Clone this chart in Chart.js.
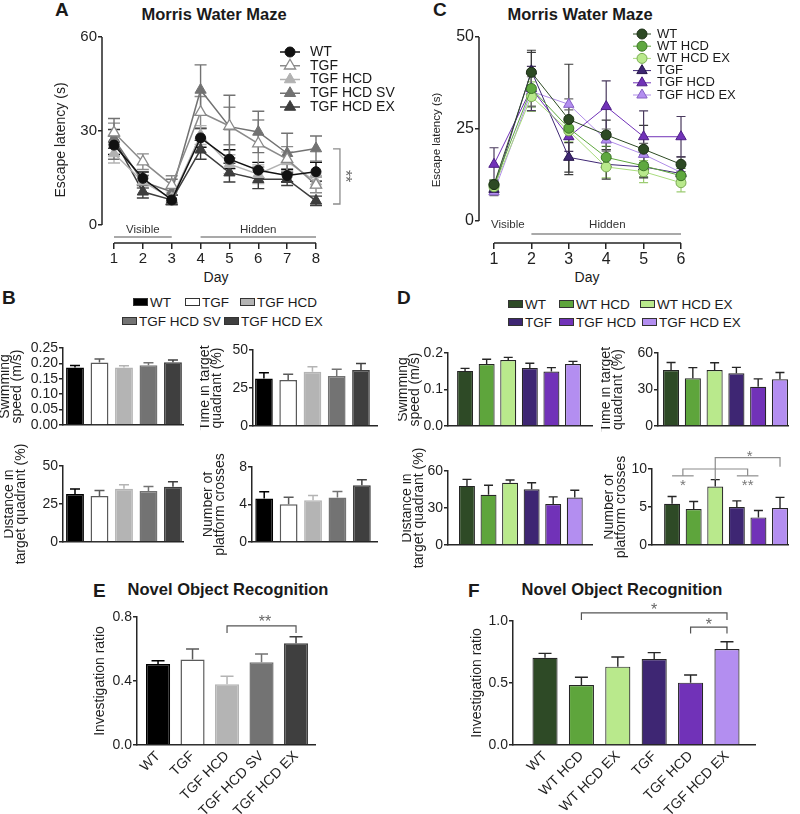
<!DOCTYPE html>
<html>
<head>
<meta charset="utf-8">
<title>Morris Water Maze / Novel Object Recognition</title>
<script src="https://cdn.jsdelivr.net/npm/chart.js@4.4.0/dist/chart.umd.min.js"></script>
<style>
  body { margin: 0; background: #fff; }
  #page { position: relative; width: 800px; height: 814px; overflow: hidden; font-family: 'Liberation Sans', Arial, sans-serif; color: #1a1a1a; }
  .box { position: absolute; }
  .lbl { position: absolute; white-space: nowrap; line-height: 1; }
  .letter { font-weight: bold; font-size: 19px; }
  .title { font-weight: bold; font-size: 16.5px; transform: translateX(-50%); }
  .day { font-size: 14px; transform: translateX(-50%); }
  .key { position: absolute; white-space: nowrap; line-height: 1; font-size: 13.5px; }
  .key i { display: inline-block; width: 13px; height: 6px; border: 1px solid #333; margin-right: 2px; vertical-align: middle; position: relative; top: -1px; }
</style>
</head>
<body>
<div id="page">
  <div class="lbl letter" style="left:55px;top:0">A</div>
  <div class="lbl title" style="left:214px;top:6px">Morris Water Maze</div>
  <div class="lbl day" style="left:216px;top:270px">Day</div>

  <div class="lbl letter" style="left:433px;top:0">C</div>
  <div class="lbl title" style="left:580px;top:6px">Morris Water Maze</div>
  <div class="lbl day" style="left:587px;top:270px">Day</div>

  <div class="lbl letter" style="left:2px;top:288px">B</div>
  <div class="key" style="left:133px;top:296px"><i style="background:#000"></i>WT</div>
  <div class="key" style="left:185px;top:296px"><i style="background:#fff"></i>TGF</div>
  <div class="key" style="left:240px;top:296px"><i style="background:#b4b4b4"></i>TGF HCD</div>
  <div class="key" style="left:122px;top:315px"><i style="background:#737373"></i>TGF HCD SV</div>
  <div class="key" style="left:224px;top:315px"><i style="background:#3f3f3f"></i>TGF HCD EX</div>

  <div class="lbl letter" style="left:397px;top:288px">D</div>
  <div class="key" style="left:508px;top:298px"><i style="background:#2e4a26"></i>WT</div>
  <div class="key" style="left:559px;top:298px"><i style="background:#5ea53c"></i>WT HCD</div>
  <div class="key" style="left:640px;top:298px"><i style="background:#b9e98c"></i>WT HCD EX</div>
  <div class="key" style="left:508px;top:316px"><i style="background:#3e2673"></i>TGF</div>
  <div class="key" style="left:559px;top:316px"><i style="background:#7132b8"></i>TGF HCD</div>
  <div class="key" style="left:642px;top:316px"><i style="background:#b38ef0"></i>TGF HCD EX</div>

  <div class="lbl letter" style="left:93px;top:581px">E</div>
  <div class="lbl title" style="left:228px;top:581px">Novel Object Recognition</div>
  <div class="lbl letter" style="left:468px;top:581px">F</div>
  <div class="lbl title" style="left:622px;top:581px">Novel Object Recognition</div>
</div>

<script>
// ---------- data ----------
const daysA = [1, 2, 3, 4, 5, 6, 7, 8];
const daysC = [1, 2, 3, 4, 5, 6];
const latencyTicksA = [0, 30, 60];
const latencyTicksC = [0, 25, 50];

// panel A, escape latency (s), mean and SEM
const wtA = [25.5, 14.9, 8.0, 27.8, 21.0, 17.5, 15.8, 17.0];
const wtAErr = [3, 2, 1.5, 3, 3, 2.5, 2, 3];
const tgfA = [29.5, 20.2, 12.7, 36.0, 31.6, 26.0, 21.0, 12.8];
const tgfAErr = [3, 2.5, 3, 5, 6, 7.5, 4, 2.5];
const tgfHcdA = [22.8, 13.8, 8.5, 28.7, 19.4, 16.2, 20.3, 13.8];
const tgfHcdAErr = [3, 2, 2, 3, 3, 3, 3, 2];
const tgfHcdSvA = [27.5, 13.8, 10.6, 43.1, 31.4, 29.7, 22.9, 24.4];
const tgfHcdSvAErr = [6.5, 2, 4, 8, 10, 6.6, 6.4, 4];
const tgfHcdExA = [27.5, 10.6, 8.0, 24.0, 16.7, 14.6, 14.6, 7.7];
const tgfHcdExAErr = [3, 2, 1.5, 3, 3, 3, 2, 1.5];

// panel C, escape latency (s), mean and SEM
const wtC = [9.9, 40.4, 27.6, 23.4, 19.5, 15.4];
const wtCErr = [1.2, 6, 15, 4, 6.5, 2];
const wtHcdC = [9.9, 36.0, 25.2, 17.3, 15.0, 12.3];
const wtHcdCErr = [1.2, 5, 3, 3, 3, 2];
const wtHcdExC = [9.3, 33.8, 24.5, 14.7, 13.4, 10.4];
const wtHcdExCErr = [1, 4, 3, 3, 3, 2.5];
const tgfC = [8.6, 40.8, 17.3, 15.4, 14.7, 12.9];
const tgfCErr = [1, 5, 4, 4, 3, 3];
const tgfHcdC = [15.4, 36.0, 22.9, 31.1, 22.9, 22.9];
const tgfHcdCErr = [4.5, 6, 4, 7, 7, 5.5];
const tgfHcdExC = [7.9, 35.2, 31.7, 22.0, 18.1, 13.2];
const tgfHcdExCErr = [1, 4, 1.5, 3, 3, 2];

// panel B groups and values
const groupsB = ["WT", "TGF", "TGF HCD", "TGF HCD SV", "TGF HCD EX"];
const speedB = [0.187, 0.203, 0.187, 0.194, 0.204];
const speedBErr = [0.006, 0.011, 0.005, 0.008, 0.007];
const timeB = [31.3, 30.3, 35.7, 32.9, 36.8];
const timeBErr = [3.7, 3.7, 3.3, 4.4, 4.4];
const distB = [31.6, 30.3, 35.0, 33.5, 36.4];
const distBErr = [3.3, 3.5, 2.7, 3.0, 3.3];
const crossB = [4.65, 4.03, 4.45, 4.74, 6.05];
const crossBErr = [0.7, 0.75, 0.5, 0.64, 0.6];
const speedTicksB = [0, 0.05, 0.10, 0.15, 0.20, 0.25];
const pctTicksB = [0, 25, 50];
const crossTicksB = [0, 4, 8];

// panel D groups and values
const groupsD = ["WT", "WT HCD", "WT HCD EX", "TGF", "TGF HCD", "TGF HCD EX"];
const speedD = [0.151, 0.170, 0.181, 0.159, 0.149, 0.170];
const speedDErr = [0.007, 0.013, 0.007, 0.013, 0.011, 0.007];
const timeD = [46.0, 39.2, 46.0, 43.4, 32.3, 38.4];
const timeDErr = [6.2, 8.8, 6.0, 4.8, 6.4, 5.6];
const distD = [47.9, 40.7, 50.5, 45.2, 33.3, 38.5];
const distDErr = [5.3, 7.7, 2.2, 5.3, 5.7, 5.9];
const crossD = [5.43, 4.73, 7.70, 5.00, 3.63, 4.86];
const crossDErr = [0.95, 1.0, 0.9, 0.8, 0.9, 1.4];
const speedTicksD = [0, 0.1, 0.2];
const pctTicksD = [0, 30, 60];
const crossTicksD = [0, 5, 10];

// panels E and F, investigation ratio
const ratioE = [0.506, 0.535, 0.380, 0.517, 0.636];
const ratioEErr = [0.021, 0.065, 0.05, 0.052, 0.041];
const ratioTicksE = [0, 0.4, 0.8];
const ratioF = [0.704, 0.484, 0.632, 0.694, 0.503, 0.774];
const ratioFErr = [0.035, 0.062, 0.078, 0.051, 0.062, 0.059];
const ratioTicksF = [0, 0.5, 1.0];

// ---------- styles ----------
const FONT = "'Liberation Sans', Arial, sans-serif";
const AXIS = "#262626";
const fillsB = ["#000000", "#ffffff", "#b4b4b4", "#737373", "#3f3f3f"];
const edgesB = ["#000000", "#5a5a5a", "#b4b4b4", "#737373", "#3f3f3f"];
const fillsD = ["#2e4a26", "#5ea53c", "#b9e98c", "#3e2673", "#7132b8", "#b38ef0"];
const edgesD = ["#262626", "#262626", "#262626", "#262626", "#262626", "#262626"];

Chart.defaults.font.family = FONT;
Chart.defaults.color = "#1f1f1f";
Chart.defaults.animation = false;
Chart.defaults.plugins.legend.display = false;
Chart.defaults.plugins.tooltip.enabled = false;

const specs = {};

// ---------- plugins ----------
function marker(ctx, style, x, y, r) {
  ctx.beginPath();
  if (style === "triangle") {
    ctx.moveTo(x, y - r);
    ctx.lineTo(x + 0.866 * r, y + 0.5 * r);
    ctx.lineTo(x - 0.866 * r, y + 0.5 * r);
    ctx.closePath();
  } else {
    ctx.arc(x, y, r, 0, Math.PI * 2);
  }
}

function drawErrors(chart, sp) {
  const ctx = chart.ctx;
  const y = chart.scales.y;
  chart.data.datasets.forEach((ds, di) => {
    if (!ds.errors) return;
    const meta = chart.getDatasetMeta(di);
    meta.data.forEach((el, i) => {
      const v = ds.data[i].y;
      const e = ds.errors[i];
      const top = y.getPixelForValue(v + e);
      const bottom = sp.errMode === "both" ? y.getPixelForValue(v - e) : y.getPixelForValue(v);
      ctx.save();
      ctx.strokeStyle = Array.isArray(ds.errorColor) ? ds.errorColor[i] : ds.errorColor;
      ctx.lineWidth = sp.errWidth;
      ctx.beginPath();
      ctx.moveTo(el.x, bottom);
      ctx.lineTo(el.x, top);
      ctx.moveTo(el.x - sp.cap, top);
      ctx.lineTo(el.x + sp.cap, top);
      if (sp.errMode === "both") {
        ctx.moveTo(el.x - sp.cap, bottom);
        ctx.lineTo(el.x + sp.cap, bottom);
      }
      ctx.stroke();
      ctx.restore();
    });
  });
}

const errorBars = {
  id: "errorBars",
  beforeDatasetsDraw(chart) {
    const sp = specs[chart.canvas.id];
    if (sp && sp.errMode === "both") drawErrors(chart, sp);
  },
  afterDatasetsDraw(chart) {
    const sp = specs[chart.canvas.id];
    if (sp && sp.errMode === "up") drawErrors(chart, sp);
  },
};

// detached axis lines, GraphPad style, for the line charts
const openAxes = {
  id: "openAxes",
  beforeDatasetsDraw(chart) {
    const sp = specs[chart.canvas.id];
    if (!sp || !sp.axes) return;
    const { ctx, chartArea, scales } = chart;
    ctx.save();
    ctx.strokeStyle = AXIS;
    ctx.lineWidth = 1.5;
    ctx.beginPath();
    ctx.moveTo(chartArea.left, scales.y.getPixelForValue(sp.axes.y0));
    ctx.lineTo(chartArea.left, scales.y.getPixelForValue(sp.axes.y1));
    ctx.moveTo(scales.x.getPixelForValue(sp.axes.x0), chartArea.bottom);
    ctx.lineTo(scales.x.getPixelForValue(sp.axes.x1), chartArea.bottom);
    ctx.stroke();
    ctx.restore();
  },
};

// brackets, phase lines and stars, in data units
const marks = {
  id: "marks",
  afterDraw(chart) {
    const sp = specs[chart.canvas.id];
    if (!sp || !sp.marks) return;
    const { ctx, scales: { x, y } } = chart;
    ctx.save();
    (sp.marks.lines || []).forEach((l) => {
      ctx.strokeStyle = l.color;
      ctx.lineWidth = l.width;
      ctx.beginPath();
      l.pts.forEach((p, i) => {
        const px = x.getPixelForValue(p[0]);
        const py = y.getPixelForValue(p[1]);
        if (i) ctx.lineTo(px, py);
        else ctx.moveTo(px, py);
      });
      ctx.stroke();
    });
    (sp.marks.texts || []).forEach((t) => {
      ctx.save();
      ctx.translate(x.getPixelForValue(t.x), y.getPixelForValue(t.y));
      if (t.rotate) ctx.rotate(t.rotate);
      ctx.fillStyle = t.color;
      ctx.font = t.font + " " + FONT;
      ctx.textAlign = "center";
      ctx.textBaseline = "middle";
      ctx.fillText(t.text, 0, 0);
      ctx.restore();
    });
    ctx.restore();
  },
};

const seriesKey = {
  id: "seriesKey",
  afterDraw(chart) {
    const sp = specs[chart.canvas.id];
    if (!sp || !sp.legend) return;
    const lg = sp.legend;
    const ctx = chart.ctx;
    ctx.save();
    chart.data.datasets.forEach((ds, i) => {
      const cx = lg.x - sp.box.x;
      const cy = lg.y + i * lg.dy - sp.box.y;
      ctx.strokeStyle = ds.borderColor;
      ctx.lineWidth = ds.borderWidth;
      ctx.beginPath();
      ctx.moveTo(cx - lg.half, cy);
      ctx.lineTo(cx + lg.half, cy);
      ctx.stroke();
      marker(ctx, ds.pointStyle, cx, cy, ds.pointRadius);
      ctx.fillStyle = ds.pointBackgroundColor;
      ctx.fill();
      ctx.strokeStyle = ds.pointBorderColor;
      ctx.lineWidth = ds.pointBorderWidth;
      ctx.stroke();
      ctx.fillStyle = "#1a1a1a";
      ctx.font = lg.font + " " + FONT;
      ctx.textAlign = "left";
      ctx.textBaseline = "middle";
      ctx.fillText(ds.label, lg.textX - sp.box.x, cy);
    });
    ctx.restore();
  },
};

Chart.register(errorBars, openAxes, marks, seriesKey);

// ---------- helpers ----------
function place(id, box, area, config, spec) {
  const wrap = document.createElement("div");
  wrap.className = "box";
  wrap.style.left = box.x + "px";
  wrap.style.top = box.y + "px";
  const canvas = document.createElement("canvas");
  canvas.id = id;
  canvas.width = box.w;
  canvas.height = box.h;
  canvas.style.width = box.w + "px";
  canvas.style.height = box.h + "px";
  canvas.style.display = "block";
  wrap.appendChild(canvas);
  document.getElementById("page").appendChild(wrap);
  specs[id] = Object.assign({ box }, spec);

  const o = config.options;
  o.responsive = false;
  o.maintainAspectRatio = false;
  o.layout = { padding: { left: 0, top: area.t - box.y, right: box.x + box.w - area.r, bottom: 0 } };
  o.scales.y.afterFit = (s) => { s.width = area.l - box.x; };
  o.scales.x.afterFit = (s) => { s.height = box.y + box.h - area.b; };
  return new Chart(canvas, config);
}

function lineScales(xMin, xMax, xTicks, yMin, yMax, yTicks, tickSize, title, titleSize) {
  return {
    x: {
      type: "linear", min: xMin, max: xMax,
      afterBuildTicks: (s) => { s.ticks = xTicks.map((v) => ({ value: v })); },
      ticks: { font: { size: tickSize }, padding: 1, color: "#1f1f1f", autoSkip: false, maxRotation: 0 },
      grid: { drawOnChartArea: false, drawTicks: true, tickLength: 6, color: AXIS, lineWidth: 1.5 },
      border: { display: false },
    },
    y: {
      type: "linear", min: yMin, max: yMax,
      afterBuildTicks: (s) => { s.ticks = yTicks.map((v) => ({ value: v })); },
      ticks: { font: { size: tickSize }, padding: 1, color: "#1f1f1f", autoSkip: false },
      grid: { drawOnChartArea: false, drawTicks: true, tickLength: 4, color: AXIS, lineWidth: 1.5 },
      border: { display: false },
      title: { display: true, text: title, font: { size: titleSize, lineHeight: 1 }, padding: 0, color: "#1f1f1f" },
    },
  };
}

function lineSet(label, days, values, errs, style) {
  return Object.assign({
    label,
    data: days.map((d, i) => ({ x: d, y: values[i] })),
    errors: errs,
    tension: 0,
    fill: false,
    clip: false,
  }, style);
}

function barScales(groups, xMin, xMax, yTicks, decimals, title, rotate) {
  return {
    x: {
      type: "linear", min: xMin, max: xMax, offset: false,
      afterBuildTicks: (s) => { s.ticks = groups.map((g, i) => ({ value: i })); },
      grid: { display: false, drawTicks: false, offset: false },
      border: { display: true, color: AXIS, width: 1.5 },
      ticks: rotate
        ? { display: true, autoSkip: false, minRotation: 45, maxRotation: 45, font: { size: 14 }, padding: 3, color: "#1f1f1f", callback: (v) => groups[v] }
        : { display: false },
    },
    y: {
      type: "linear", min: yTicks[0], max: yTicks[yTicks.length - 1],
      afterBuildTicks: (s) => { s.ticks = yTicks.map((v) => ({ value: v })); },
      ticks: { font: { size: 14 }, padding: 1, color: "#1f1f1f", autoSkip: false, callback: (v) => Number(v).toFixed(decimals) },
      grid: { drawOnChartArea: false, drawTicks: true, tickLength: 4, color: AXIS, lineWidth: 1.5 },
      border: { display: true, color: AXIS, width: 1.5 },
      title: { display: true, text: title, font: { size: 14, lineHeight: Array.isArray(title) ? 0.8 : 1 }, padding: 0, color: "#1f1f1f" },
    },
  };
}

function barData(values, errs, fills, edges, pct, edgeWidth) {
  return {
    datasets: [{
      data: values.map((v, i) => ({ x: i, y: v })),
      errors: errs,
      errorColor: edges,
      backgroundColor: fills,
      borderColor: edges,
      borderWidth: edgeWidth,
      borderSkipped: "start",
      barPercentage: pct,
      categoryPercentage: 1,
    }],
  };
}

// ---------- A: Morris water maze, 8 days ----------
place("chartA", { x: 54, y: 25, w: 346, h: 240 }, { l: 102, t: 37, r: 330, b: 243 }, {
  type: "line",
  data: {
    datasets: [
      lineSet("WT", daysA, wtA, wtAErr, { borderColor: "#111", borderWidth: 1.5, errorColor: "#111", pointStyle: "circle", pointRadius: 5, pointBackgroundColor: "#111", pointBorderColor: "#111", pointBorderWidth: 1 }),
      lineSet("TGF", daysA, tgfA, tgfAErr, { borderColor: "#8a8a8a", borderWidth: 1.5, errorColor: "#8a8a8a", pointStyle: "triangle", pointRadius: 6.5, pointBackgroundColor: "#fff", pointBorderColor: "#8a8a8a", pointBorderWidth: 1.3 }),
      lineSet("TGF HCD", daysA, tgfHcdA, tgfHcdAErr, { borderColor: "#b2b2b2", borderWidth: 1.5, errorColor: "#b2b2b2", pointStyle: "triangle", pointRadius: 6.5, pointBackgroundColor: "#b2b2b2", pointBorderColor: "#b2b2b2", pointBorderWidth: 1 }),
      lineSet("TGF HCD SV", daysA, tgfHcdSvA, tgfHcdSvAErr, { borderColor: "#727272", borderWidth: 1.5, errorColor: "#727272", pointStyle: "triangle", pointRadius: 6.5, pointBackgroundColor: "#727272", pointBorderColor: "#727272", pointBorderWidth: 1 }),
      lineSet("TGF HCD EX", daysA, tgfHcdExA, tgfHcdExAErr, { borderColor: "#3d3d3d", borderWidth: 1.5, errorColor: "#3d3d3d", pointStyle: "triangle", pointRadius: 6.5, pointBackgroundColor: "#3d3d3d", pointBorderColor: "#3d3d3d", pointBorderWidth: 1 }),
    ],
  },
  options: { scales: lineScales(0.584, 8.485, daysA, -5.745, 60, latencyTicksA, 15, "Escape latency (s)", 14) },
}, {
  errMode: "both", cap: 6, errWidth: 1.4,
  axes: { x0: 1, x1: 8, y0: 0, y1: 60 },
  legend: { x: 290, y: 52, dy: 13.75, half: 10, textX: 310, font: "14px" },
  marks: {
    lines: [
      { pts: [[1, -3.83], [3, -3.83]], color: "#8c8c8c", width: 1.5 },
      { pts: [[4, -3.83], [8, -3.83]], color: "#8c8c8c", width: 1.5 },
      { pts: [[8.59, 24.3], [8.83, 24.3], [8.83, 6.7], [8.59, 6.7]], color: "#8c8c8c", width: 1.3 },
    ],
    texts: [
      { text: "Visible", x: 2, y: -1.6, font: "11.5px", color: "#333" },
      { text: "Hidden", x: 6, y: -1.6, font: "11.5px", color: "#333" },
      { text: "**", x: 8.97, y: 15.6, font: "16px", color: "#666", rotate: Math.PI / 2 },
    ],
  },
});

// ---------- C: Morris water maze, 6 days ----------
place("chartC", { x: 431, y: 25, w: 369, h: 240 }, { l: 479, t: 37, r: 695, b: 243 }, {
  type: "line",
  data: {
    datasets: [
      lineSet("WT", daysC, wtC, wtCErr, { borderColor: "#2d4a24", borderWidth: 1, errorColor: "#3a3a3a", pointStyle: "circle", pointRadius: 5, pointBackgroundColor: "#2d4a24", pointBorderColor: "#1c2f16", pointBorderWidth: 1 }),
      lineSet("WT HCD", daysC, wtHcdC, wtHcdCErr, { borderColor: "#5fa83f", borderWidth: 1, errorColor: "#4b7d35", pointStyle: "circle", pointRadius: 5, pointBackgroundColor: "#5fa83f", pointBorderColor: "#3b7425", pointBorderWidth: 1 }),
      lineSet("WT HCD EX", daysC, wtHcdExC, wtHcdExCErr, { borderColor: "#a9dc7e", borderWidth: 1, errorColor: "#9ccc72", pointStyle: "circle", pointRadius: 5, pointBackgroundColor: "#b9e98c", pointBorderColor: "#7bab55", pointBorderWidth: 1 }),
      lineSet("TGF", daysC, tgfC, tgfCErr, { borderColor: "#3e2673", borderWidth: 1, errorColor: "#3a3a3a", pointStyle: "triangle", pointRadius: 6, pointBackgroundColor: "#3e2673", pointBorderColor: "#26164a", pointBorderWidth: 1 }),
      lineSet("TGF HCD", daysC, tgfHcdC, tgfHcdCErr, { borderColor: "#7132b8", borderWidth: 1, errorColor: "#4a3a5e", pointStyle: "triangle", pointRadius: 6, pointBackgroundColor: "#7132b8", pointBorderColor: "#4e1f86", pointBorderWidth: 1 }),
      lineSet("TGF HCD EX", daysC, tgfHcdExC, tgfHcdExCErr, { borderColor: "#b08de8", borderWidth: 1, errorColor: "#6a6a6a", pointStyle: "triangle", pointRadius: 6, pointBackgroundColor: "#b38ef0", pointBorderColor: "#8660c4", pointBorderWidth: 1 }),
    ],
  },
  options: { scales: lineScales(0.599, 6.374, daysC, -5.98, 50, latencyTicksC, 16, "Escape latency (s)", 11.5) },
}, {
  errMode: "both", cap: 4.5, errWidth: 1.2,
  axes: { x0: 1, x1: 6, y0: 0, y1: 50 },
  legend: { x: 642, y: 34, dy: 12.2, half: 9, textX: 657, font: "13px" },
  marks: {
    lines: [{ pts: [[2, -3.53], [6, -3.53]], color: "#8c8c8c", width: 1.3 }],
    texts: [
      { text: "Visible", x: 1.37, y: -1.09, font: "11.5px", color: "#333" },
      { text: "Hidden", x: 4.03, y: -1.09, font: "11.5px", color: "#333" },
    ],
  },
});

// ---------- B: probe trial, 5 groups ----------
const specB = { errMode: "up", cap: 5, errWidth: 1.5 };
place("chartB1", { x: 0, y: 338, w: 192, h: 99 }, { l: 63, t: 348, r: 183, b: 425 }, {
  type: "bar", data: barData(speedB, speedBErr, fillsB, edgesB, 0.73, 1.5),
  options: { scales: barScales(groupsB, -0.49, 4.41, speedTicksB, 2, ["Swimming", "speed (m/s)"], false) },
}, specB);
place("chartB2", { x: 200, y: 338, w: 192, h: 100 }, { l: 253, t: 350, r: 377, b: 426 }, {
  type: "bar", data: barData(timeB, timeBErr, fillsB, edgesB, 0.73, 1.5),
  options: { scales: barScales(groupsB, -0.45, 4.66, pctTicksB, 0, ["Time in target", "quadrant (%)"], false) },
}, specB);
place("chartB3", { x: 4, y: 440, w: 188, h: 132 }, { l: 63, t: 466, r: 183, b: 542 }, {
  type: "bar", data: barData(distB, distBErr, fillsB, edgesB, 0.73, 1.5),
  options: { scales: barScales(groupsB, -0.49, 4.41, pctTicksB, 0, ["Distance in", "target quadrant (%)"], false) },
}, specB);
place("chartB4", { x: 203, y: 440, w: 189, h: 132 }, { l: 252, t: 467, r: 377, b: 542 }, {
  type: "bar", data: barData(crossB, crossBErr, fillsB, edgesB, 0.73, 1.5),
  options: { scales: barScales(groupsB, -0.5, 4.62, crossTicksB, 0, ["Number of", "platform crosses"], false) },
}, specB);

// ---------- D: probe trial, 6 groups ----------
const specD = { errMode: "up", cap: 4.5, errWidth: 1.4 };
place("chartD1", { x: 398, y: 338, w: 200, h: 100 }, { l: 448, t: 353, r: 592, b: 426 }, {
  type: "bar", data: barData(speedD, speedDErr, fillsD, edgesD, 0.74, 1.2),
  options: { scales: barScales(groupsD, -0.79, 5.88, speedTicksD, 1, ["Swimming", "speed (m/s)"], false) },
}, specD);
place("chartD2", { x: 601, y: 338, w: 199, h: 100 }, { l: 658, t: 353, r: 788, b: 426 }, {
  type: "bar", data: barData(timeD, timeDErr, fillsD, edgesD, 0.74, 1.2),
  options: { scales: barScales(groupsD, -0.6, 5.37, pctTicksD, 0, ["Time in target", "quadrant (%)"], false) },
}, specD);
place("chartD3", { x: 402, y: 440, w: 196, h: 132 }, { l: 448, t: 471, r: 592, b: 545 }, {
  type: "bar", data: barData(distD, distDErr, fillsD, edgesD, 0.74, 1.2),
  options: { scales: barScales(groupsD, -0.88, 5.8, pctTicksD, 0, ["Distance in", "target quadrant (%)"], false) },
}, specD);
place("chartD4", { x: 604, y: 440, w: 196, h: 132 }, { l: 652, t: 469, r: 788, b: 545 }, {
  type: "bar", data: barData(crossD, crossDErr, fillsD, edgesD, 0.74, 1.2),
  options: { scales: barScales(groupsD, -0.93, 5.37, crossTicksD, 0, ["Number of", "platform crosses"], false) },
}, Object.assign({}, specD, {
  marks: {
    lines: [
      { pts: [[2, 8.6], [2, 11.5], [5, 11.5], [5, 10.3]], color: "#8c8c8c", width: 1.2 },
      { pts: [[0, 9.1], [1, 9.1]], color: "#8c8c8c", width: 1.2 },
      { pts: [[0.5, 9.1], [0.5, 10.0], [3.5, 10.0], [3.5, 9.1]], color: "#8c8c8c", width: 1.2 },
      { pts: [[3, 9.1], [4, 9.1]], color: "#8c8c8c", width: 1.2 },
    ],
    texts: [
      { text: "*", x: 3.6, y: 11.6, font: "15px", color: "#777" },
      { text: "*", x: 0.5, y: 7.84, font: "15px", color: "#777" },
      { text: "**", x: 3.5, y: 7.84, font: "15px", color: "#777" },
    ],
  },
}));

// ---------- E: novel object recognition, 5 groups ----------
place("chartE", { x: 93, y: 598, w: 240, h: 216 }, { l: 137, t: 617, r: 315, b: 745 }, {
  type: "bar", data: barData(ratioE, ratioEErr, fillsB, edgesB, 0.7, 1.5),
  options: { scales: barScales(groupsB, -0.61, 4.55, ratioTicksE, 1, "Investigation ratio", true) },
}, {
  errMode: "up", cap: 6.5, errWidth: 1.5,
  marks: {
    lines: [{ pts: [[2, 0.70], [2, 0.744], [4, 0.744], [4, 0.70]], color: "#555", width: 1.2 }],
    texts: [{ text: "**", x: 3.1, y: 0.766, font: "16px", color: "#666" }],
  },
});

// ---------- F: novel object recognition, 6 groups ----------
place("chartF", { x: 470, y: 595, w: 300, h: 219 }, { l: 513, t: 621, r: 755, b: 745 }, {
  type: "bar", data: barData(ratioF, ratioFErr, fillsD, edgesD, 0.69, 1.2),
  options: { scales: barScales(groupsD, -0.88, 5.77, ratioTicksF, 1, "Investigation ratio", true) },
}, {
  errMode: "up", cap: 6.5, errWidth: 1.4,
  marks: {
    lines: [
      { pts: [[1, 1.008], [1, 1.065], [5, 1.065], [5, 1.008]], color: "#555", width: 1.2 },
      { pts: [[4, 0.9], [4, 0.95], [5, 0.95], [5, 0.9]], color: "#555", width: 1.2 },
    ],
    texts: [
      { text: "*", x: 3, y: 1.083, font: "16px", color: "#666" },
      { text: "*", x: 4.5, y: 0.962, font: "16px", color: "#666" },
    ],
  },
});
</script>
</body>
</html>
